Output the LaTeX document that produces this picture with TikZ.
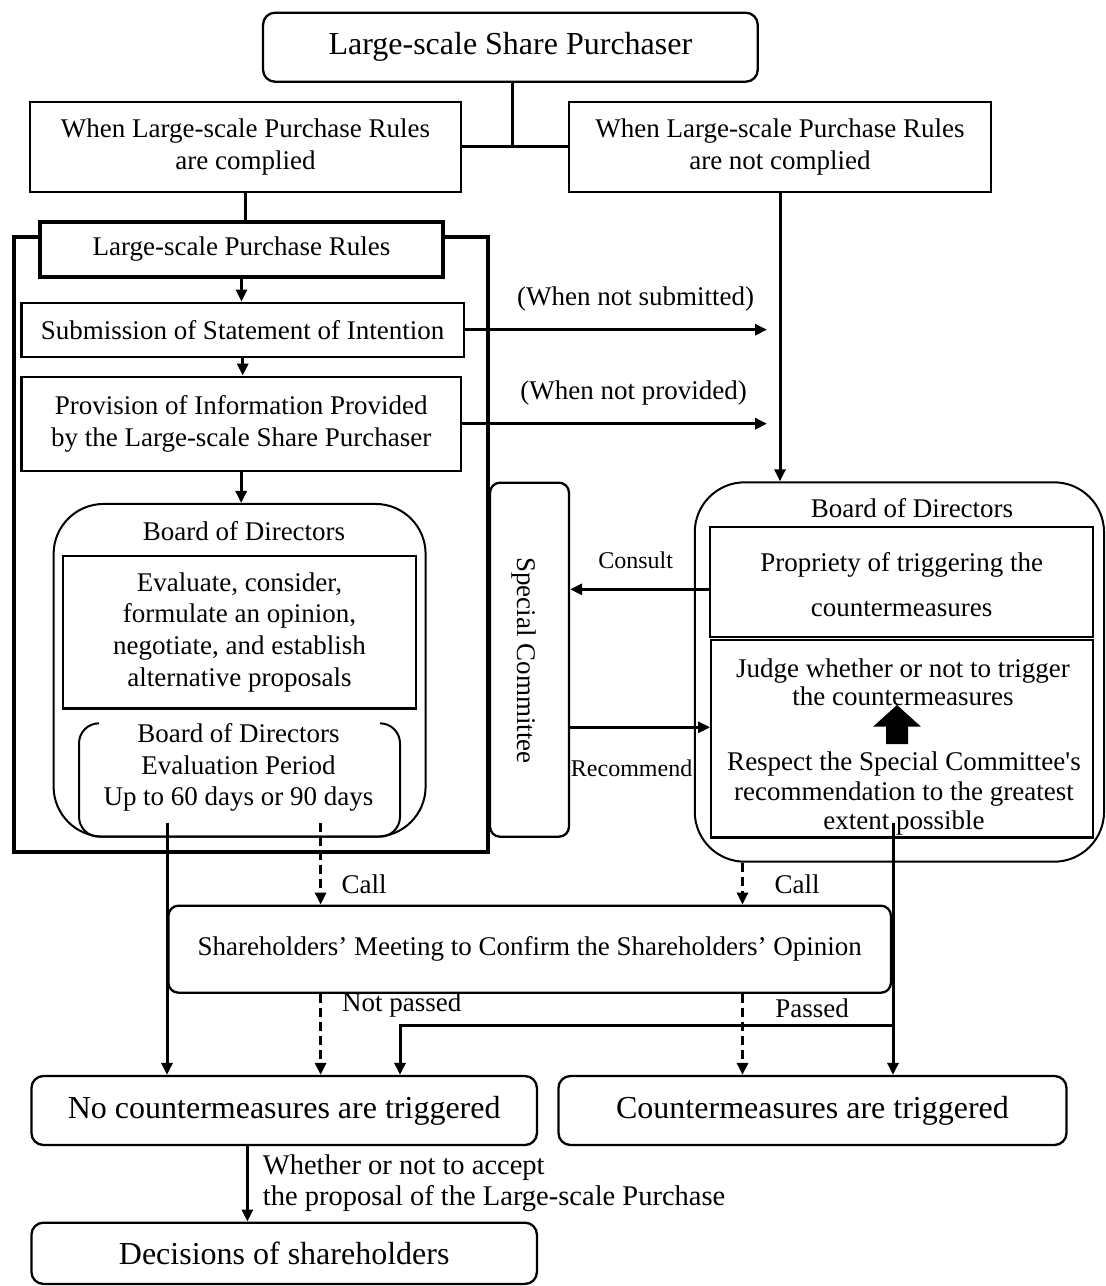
\documentclass[tikz,border=0pt]{standalone}
\usepackage{fontspec}
\setmainfont{Liberation Serif}
\usetikzlibrary{arrows.meta}
\newcommand\mfs{\fontsize{27}{31.7}\selectfont}
\newcommand\bfs{\fontsize{32}{38}\selectfont}
\newcommand\sfs{\fontsize{24}{28}\selectfont}
\newcommand\lfs{\fontsize{28.5}{31}\selectfont}
\begin{document}
\begin{tikzpicture}[x=1pt,y=-1pt,
  box/.style={draw, line width=2.3pt, inner sep=0pt, align=center, font=\mfs},
  rbox/.style={box, rounded corners=12pt},
  conn/.style={line width=3pt},
  arr/.style={conn, -{Triangle[length=12pt,width=11pt]}},
  dsh/.style={arr, dash pattern=on 9pt off 5pt},
  lbl/.style={inner sep=0pt, align=center, font=\mfs}]
\useasboundingbox (0,0) rectangle (1106,1286);

% top part
\node[rbox, font=\bfs, minimum width=494.7pt, minimum height=69pt] (top) at (510.4,47.2) {Large-scale Share Purchaser};
\node[box, minimum width=431pt, minimum height=90pt] (comp) at (245.5,146.7) {When Large-scale Purchase Rules\\are complied};
\node[box, minimum width=422pt, minimum height=90pt] (ncomp) at (780,146.7) {When Large-scale Purchase Rules\\are not complied};
\coordinate (j) at (512,146.7);
\draw[conn] (top.south -| j) -- (j);
\draw[conn] (comp.east) -- (ncomp.west);

% rules frame
\node[box, line width=4pt, minimum width=403pt, minimum height=55pt] (rules) at (241.5,249.2) {Large-scale Purchase Rules};
\draw[conn] (comp.south) -- (comp.south |- rules.north);
\coordinate (ftl) at (13.6,237.3);
\coordinate (fbr) at (487.5,851.7);
\draw[line width=4pt] (rules.west |- ftl) -- (ftl) |- (fbr) -- (fbr |- ftl) -- (rules.east |- ftl);

\node[box, minimum width=442.6pt, minimum height=54pt] (subm) at (242.7,329.7) {Submission of Statement of Intention};
\node[box, minimum width=439.6pt, minimum height=94pt] (prov) at (241.2,423.7) {Provision of Information Provided\\by the Large-scale Share Purchaser};
\draw[arr] (rules.south) -- (rules.south |- subm.north);
\draw[arr] (subm.south) -- (subm.south |- prov.north);

% left board of directors
\node[box, line width=2pt, rounded corners=50pt, minimum width=372pt, minimum height=332.7pt] (lbod) at (239.6,670.3) {};
\draw[arr] (prov.south) -- (prov.south |- lbod.north);
\node[lbl] (lbodt) at (244,530.7) {Board of Directors};
\node[box, minimum width=353pt, minimum height=152.3pt] (eval) at (239.5,632.2) {Evaluate, consider,\\formulate an opinion,\\negotiate, and establish\\alternative proposals};
\draw[line width=2pt, rounded corners=20pt] (99,723.3) -- (79,723.3) -- (79,836.7) -- (400,836.7) -- (400,723.3) -- (380,723.3);
\node[lbl] (per) at (238.5,767.5) {Board of Directors\\Evaluation Period\\Up to 60 days or 90 days};

% special committee
\node[box, rounded corners=10pt, minimum width=79pt, minimum height=354pt] (sc) at (529.5,659.7) {};
\node[lbl, rotate=-90] (sct) at (524,660.5) {Special Committee};

% right board of directors
\node[box, line width=2pt, rounded corners=50pt, minimum width=409.3pt, minimum height=379.4pt] (rbod) at (899.4,672) {};
\node[lbl] (rbodt) at (912,508.3) {Board of Directors};
\node[box, minimum width=383pt, minimum height=109.4pt] (prop) at (901.5,582) {};
\node[lbl] (propt) at (901.7,584.2) {Propriety of triggering the\\[13.3pt]countermeasures};
\node[box, minimum width=382pt, minimum height=197.3pt] (judge) at (902.3,738.7) {};
\node[lbl, font=\fontsize{27}{28.4}\selectfont] (judget) at (903,682.5) {Judge whether or not to trigger\\the countermeasures};
\node[lbl, font=\fontsize{27}{29.6}\selectfont] (respt) at (904,793.6) {Respect the Special Committee\textquotesingle s\\recommendation to the greatest\\extent possible};
\fill (886,744) -- (886,726.7) -- (873,726.7) -- (897,705) -- (921,726.7) -- (908,726.7) -- (908,744) -- cycle;

% not complied paths
\draw[arr] (ncomp.south) -- (ncomp.south |- rbod.north);
\coordinate (ae) at (767,0);
\draw[arr] (subm.east) -- (subm.east -| ae);
\draw[arr] (prov.east) -- (prov.east -| ae);
\node[lbl] (ns) at (635.6,299.3) {(When not submitted)};
\node[lbl] (np) at (633.6,392.7) {(When not provided)};

% consult / recommend
\coordinate (cy) at (0,589.3);
\coordinate (ry) at (0,727.3);
\draw[arr] (prop.west |- cy) -- (sc.east |- cy);
\draw[arr] (sc.east |- ry) -- (judge.west |- ry);
\node[lbl, font=\sfs] (cons) at (635.6,560) {Consult};
\node[lbl, font=\sfs] (reco) at (631.6,768.3) {Recommend};

% meeting and results
\node[rbox, rounded corners=10pt, minimum width=722.5pt, minimum height=87pt] (meet) at (529.7,949.2) {Shareholders’ Meeting to Confirm the Shareholders’ Opinion};
\node[rbox, font=\bfs, minimum width=505.5pt, minimum height=69pt] (nocm) at (284.2,1110.5) {No countermeasures are triggered};
\node[rbox, font=\bfs, minimum width=508pt, minimum height=69pt] (cm) at (812.5,1110.5) {Countermeasures are triggered};
\node[rbox, font=\bfs, minimum width=505.5pt, minimum height=61.3pt] (dec) at (284.2,1253.3) {Decisions of shareholders};

\coordinate (ls) at (167,823.3);
\coordinate (ld) at (320.6,823.3);
\coordinate (rd) at (742.5,0);
\coordinate (rs) at (893,823.3);
\coordinate (pj) at (893,1025.7);
\coordinate (pe) at (400,0);
\coordinate (da) at (247.4,0);
\draw[arr] (ls) -- (ls |- nocm.north);
\draw[dsh] (ld) -- (ld |- meet.north);
\draw[dsh] (ld |- meet.south) -- (ld |- nocm.north);
\draw[dsh] (rd |- rbod.south) -- (rd |- meet.north);
\draw[dsh] (rd |- meet.south) -- (rd |- cm.north);
\draw[arr] (rs) -- (rs |- cm.north);
\draw[arr] (pj) -| (pe |- nocm.north);
\draw[arr] (da |- nocm.south) -- (da |- dec.north);

\node[lbl] (call1) at (364,884) {Call};
\node[lbl] (call2) at (797,884) {Call};
\node[lbl, anchor=west] (npass) at (342,1005) {Not passed};
\node[lbl] (pass) at (812,1008) {Passed};
\node[lbl, anchor=west, align=left, font=\lfs] (wh) at (262.7,1183) {Whether or not to accept\\the proposal of the Large-scale Purchase};
\end{tikzpicture}
\end{document}
